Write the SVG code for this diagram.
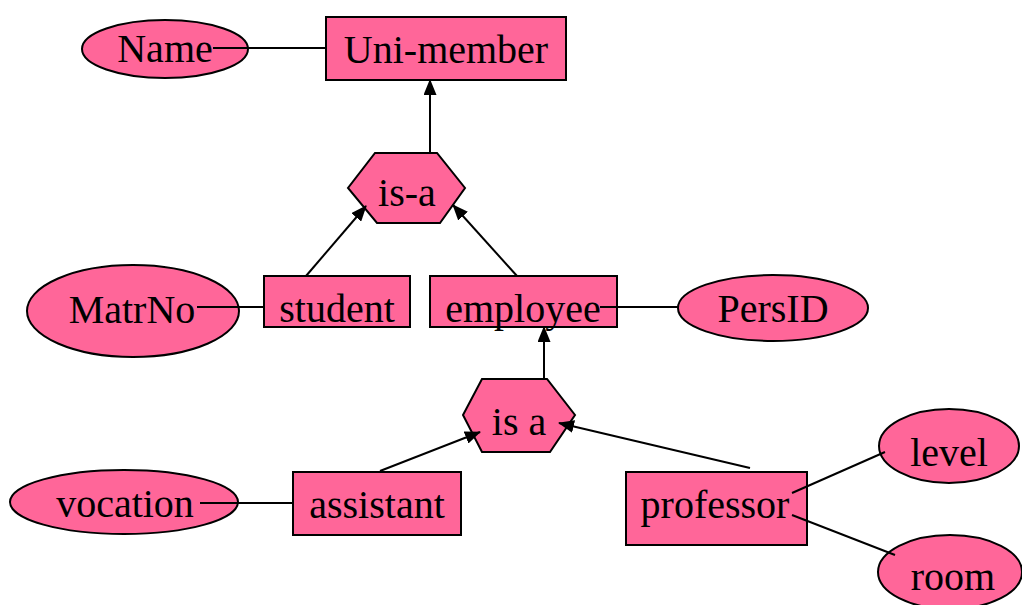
<svg xmlns="http://www.w3.org/2000/svg" width="1022" height="605" viewBox="0 0 1022 605">
  <style>
    .shape { fill: #FF6699; stroke: #000; stroke-width: 2; }
    .label { font-family: "Liberation Serif", "Times New Roman", serif; font-size: 40px; fill: #000; text-anchor: middle; }
    .link { stroke: #000; stroke-width: 2; fill: none; }
  </style>
  <defs>
    <marker id="arrow" viewBox="0 0 16 13" refX="15" refY="6.5" markerWidth="16" markerHeight="13" markerUnits="userSpaceOnUse" orient="auto">
      <path d="M0,0 L16,6.5 L0,13 Z" fill="#000"/>
    </marker>
  </defs>

  <!-- nodes -->
  <g id="uni-member">
    <rect class="shape" x="326" y="17" width="240" height="63"/>
    <text class="label" x="446" y="63">Uni-member</text>
  </g>
  <g id="name">
    <ellipse class="shape" cx="165" cy="49" rx="83" ry="29"/>
    <text class="label" x="165" y="62">Name</text>
  </g>
  <g id="isa-1">
    <polygon class="shape" points="375,153 437,153 465,188 440,223 377,223 348,188"/>
    <text class="label" x="407" y="206">is-a</text>
  </g>
  <g id="student">
    <rect class="shape" x="264" y="276" width="146" height="51"/>
    <text class="label" x="337" y="322">student</text>
  </g>
  <g id="matrno">
    <ellipse class="shape" cx="133" cy="311" rx="106" ry="46"/>
    <text class="label" x="132" y="323">MatrNo</text>
  </g>
  <g id="employee">
    <rect class="shape" x="430" y="276" width="187" height="51"/>
    <text class="label" x="523" y="322">employee</text>
  </g>
  <g id="persid">
    <ellipse class="shape" cx="773" cy="308" rx="95" ry="33"/>
    <text class="label" x="773" y="322">PersID</text>
  </g>
  <g id="isa-2">
    <polygon class="shape" points="482,379 547,379 575,415 550,452 482,452 463,415"/>
    <text class="label" x="519" y="435">is a</text>
  </g>
  <g id="assistant">
    <rect class="shape" x="293" y="472" width="168" height="63"/>
    <text class="label" x="377" y="518">assistant</text>
  </g>
  <g id="vocation">
    <ellipse class="shape" cx="124" cy="502" rx="114" ry="32"/>
    <text class="label" x="125" y="517">vocation</text>
  </g>
  <g id="professor">
    <rect class="shape" x="626" y="472" width="181" height="73"/>
    <text class="label" x="715" y="518">professor</text>
  </g>
  <g id="level">
    <ellipse class="shape" cx="949" cy="446" rx="70" ry="37"/>
    <text class="label" x="949" y="466">level</text>
  </g>
  <g id="room">
    <ellipse class="shape" cx="950" cy="572" rx="72" ry="37"/>
    <text class="label" x="953" y="590">room</text>
  </g>

  <!-- connectors -->
  <g id="connectors">
    <line class="link" x1="213" y1="48" x2="326" y2="48"/>
    <line class="link" x1="430" y1="153" x2="430" y2="80" marker-end="url(#arrow)"/>
    <line class="link" x1="306" y1="276" x2="366" y2="206" marker-end="url(#arrow)"/>
    <line class="link" x1="517" y1="276" x2="453" y2="205" marker-end="url(#arrow)"/>
    <line class="link" x1="197" y1="307" x2="264" y2="307"/>
    <line class="link" x1="600" y1="307" x2="679" y2="307"/>
    <line class="link" x1="544" y1="379" x2="544" y2="327" marker-end="url(#arrow)"/>
    <line class="link" x1="380" y1="471" x2="480" y2="432" marker-end="url(#arrow)"/>
    <line class="link" x1="750" y1="468" x2="559" y2="423" marker-end="url(#arrow)"/>
    <line class="link" x1="200" y1="503" x2="293" y2="503"/>
    <line class="link" x1="792" y1="493" x2="885" y2="452"/>
    <line class="link" x1="792" y1="515" x2="895" y2="555"/>
  </g>
</svg>
